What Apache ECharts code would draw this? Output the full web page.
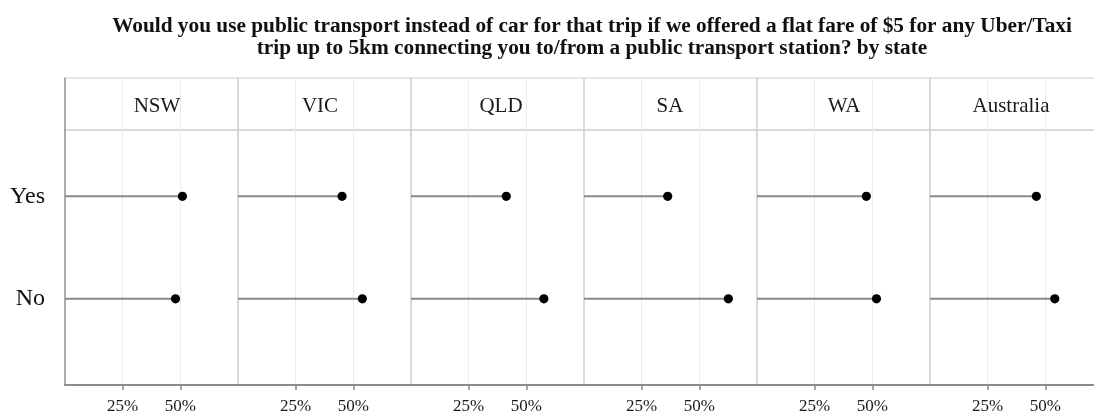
<!DOCTYPE html>
<html>
<head>
<meta charset="utf-8">
<script src="https://cdn.jsdelivr.net/npm/echarts@6/dist/echarts.min.js"></script>
<style>html,body{margin:0;padding:0;background:#fff}#c{width:1094px;height:412px}</style>
</head>
<body>
<div id="c"></div>
<script>
const titleLines = ['Would you use public transport instead of car for that trip if we offered a flat fare of $5 for any Uber/Taxi',
  'trip up to 5km connecting you to/from a public transport station? by state'];
const states = ['NSW', 'VIC', 'QLD', 'SA', 'WA', 'Australia'];
const rows = ['No', 'Yes'];
const yesPct = [50.9, 45.1, 41.3, 36.3, 47.4, 46.1];
const noPct = [47.9, 53.9, 57.6, 62.6, 51.8, 54.1];
const xTickValues = [25, 50];
const xMin = 0, xMax = 75;

// layout
const FONT = 'Liberation Serif';
const P_LEFT = 65, P_W = 173, HEAD_TOP = 78, HEAD_H = 52, PLOT_TOP = 130, PLOT_H = 255;
const Y_MIN = 0.159, Y_MAX = 2.647;
const labelCenters = [157, 320, 501, 670, 844, 1011];

const grids = [], xAxes = [], yAxes = [], series = [], titles = [];
titles.push({
  text: titleLines.join('\n'), left: 592, top: 15, textAlign: 'center', padding: 0,
  textStyle: {fontFamily: FONT, fontWeight: 'bold', fontSize: 21.3, lineHeight: 22, color: '#111'}
});
states.forEach((s, i) => {
  const left = P_LEFT + P_W * i;
  grids.push({left: left, top: HEAD_TOP, width: P_W, height: HEAD_H, show: true, borderColor: '#cdcdcd', borderWidth: 1,
    containLabel: false, outerBoundsMode: 'none'});
  titles.push({text: s, left: labelCenters[i], top: 96, textAlign: 'center', padding: 0,
    textStyle: {fontFamily: FONT, fontWeight: 'normal', fontSize: 21, color: '#1a1a1a'}});
});
states.forEach((s, i) => {
  const left = P_LEFT + P_W * i;
  grids.push({left: left, top: PLOT_TOP, width: P_W, height: PLOT_H, show: true, borderColor: '#cdcdcd', borderWidth: 1,
    containLabel: false, outerBoundsMode: 'none'});
});
// header axes
states.forEach((s, i) => {
  xAxes.push({type: 'value', gridIndex: i, min: xMin, max: xMax, interval: 25,
    axisLine: {show: false}, axisTick: {show: false}, axisLabel: {show: false},
    splitLine: {show: true, showMinLine: false, showMaxLine: false, lineStyle: {color: '#ebebeb', width: 1}}});
  yAxes.push({type: 'value', gridIndex: i, min: 0, max: 1, show: i === 0,
    axisLine: {show: true, lineStyle: {color: '#9a9a9a', width: 1.5}}, axisTick: {show: false},
    axisLabel: {show: false}, splitLine: {show: false}});
});
// plot axes
states.forEach((s, i) => {
  const g = states.length + i;
  xAxes.push({type: 'value', gridIndex: g, min: xMin, max: xMax, interval: 25,
    axisLine: {show: true, lineStyle: {color: '#8c8c8c', width: 2}},
    axisTick: {show: true, customValues: xTickValues, length: 5, lineStyle: {color: '#8c8c8c', width: 1.5}},
    axisLabel: {show: true, customValues: xTickValues, formatter: v => v + '%', fontFamily: FONT, fontSize: 17, color: '#1a1a1a', margin: 13},
    splitLine: {show: true, showMinLine: true, showMaxLine: true, lineStyle: {color: '#ebebeb', width: 1}}});
  yAxes.push({type: 'value', gridIndex: g, min: Y_MIN, max: Y_MAX, show: i === 0,
    axisLine: {show: true, lineStyle: {color: '#9a9a9a', width: 1.5}}, axisTick: {show: false},
    axisLabel: {show: true, customValues: [1, 2], formatter: v => rows[Math.round(v) - 1] || '',
      fontFamily: FONT, fontSize: 24, color: '#111', margin: 20, padding: [14, 0, 0, 0]},
    splitLine: {show: false}});
  const data = rows.map((r, j) => [r === 'Yes' ? yesPct[i] : noPct[i], j + 1]);
  series.push({
    type: 'custom', xAxisIndex: g, yAxisIndex: g, data: data, encode: {x: 0, y: 1}, z: 5,
    renderItem: (params, api) => {
      const v = api.value(0), y = api.value(1);
      const p0 = api.coord([0, y]), p1 = api.coord([v, y]);
      return {type: 'group', children: [
        {type: 'line', shape: {x1: p0[0], y1: p0[1], x2: p1[0], y2: p1[1]}, style: {stroke: '#8a8a8a', lineWidth: 2}},
        {type: 'circle', shape: {cx: p1[0], cy: p1[1], r: 4.6}, style: {fill: '#000'}}
      ]};
    }
  });
});

const chart = echarts.init(document.getElementById('c'), null, {renderer: 'canvas'});
chart.setOption({
  animation: false,
  backgroundColor: '#fff',
  title: titles,
  grid: grids,
  xAxis: xAxes,
  yAxis: yAxes,
  series: series
});
</script>
</body>
</html>
